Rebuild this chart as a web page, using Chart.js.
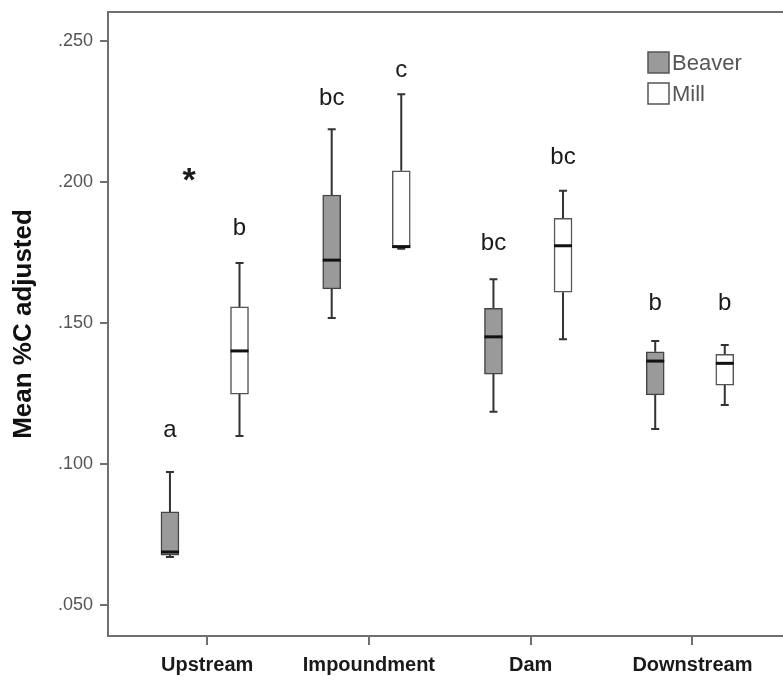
<!DOCTYPE html>
<html>
<head>
<meta charset="utf-8">
<script src="https://cdn.jsdelivr.net/npm/chart.js@4.4.0/dist/chart.umd.min.js"></script>
<style>
  html, body { margin: 0; padding: 0; background: #fff; }
  #wrap { width: 783px; height: 685px; }
</style>
</head>
<body>
<div id="wrap"><canvas id="chart"></canvas></div>
<script>
// Datos (cajas: mínimo, Q1, mediana, Q3, máximo)
const sites = ['Upstream', 'Impoundment', 'Dam', 'Downstream'];
const seriesNames = ['Beaver', 'Mill'];

const beaverMin = [0.0670, 0.1518, 0.1185, 0.1124];
const beaverQ1  = [0.0677, 0.1621, 0.1319, 0.1245];
const beaverMed = [0.0688, 0.1723, 0.1451, 0.1365];
const beaverQ3  = [0.0830, 0.1954, 0.1552, 0.1398];
const beaverMax = [0.0972, 0.2187, 0.1655, 0.1436];

const millMin = [0.1099, 0.1763, 0.1442, 0.1209];
const millQ1  = [0.1248, 0.1766, 0.1609, 0.1280];
const millMed = [0.1401, 0.1771, 0.1774, 0.1357];
const millQ3  = [0.1557, 0.2040, 0.1871, 0.1389];
const millMax = [0.1713, 0.2311, 0.1969, 0.1422];

// letras de significancia y su altura (en unidades del eje Y)
const beaverLetters = ['a', 'bc', 'bc', 'b'];
const beaverLetterY = [0.1121, 0.2298, 0.1784, 0.1571];
const millLetters = ['b', 'c', 'bc', 'b'];
const millLetterY = [0.1837, 0.2397, 0.2089, 0.1571];

const starSite = 0;
const starY = 0.2025;

const yTicks = [0.05, 0.10, 0.15, 0.20, 0.25];

const AXIS_COLOR = '#707070';
const FONT = "'Liberation Sans', Arial, sans-serif";

function serie(nombre, offset, q1, q3, extra, fill, border) {
    return Object.assign({
        label: nombre,
        data: sites.map((s, i) => ({ x: i + offset, y: [q1[i], q3[i]] })),
        backgroundColor: fill,
        borderColor: border,
        borderWidth: 1.5,
        borderSkipped: false,
        barThickness: 18,
        grouped: false
    }, extra);
}

const datasets = [
    serie(seriesNames[0], -0.23, beaverQ1, beaverQ3,
        { mins: beaverMin, maxs: beaverMax, meds: beaverMed, letters: beaverLetters, letterY: beaverLetterY },
        '#9a9a9a', '#444'),
    serie(seriesNames[1], 0.20, millQ1, millQ3,
        { mins: millMin, maxs: millMax, meds: millMed, letters: millLetters, letterY: millLetterY },
        '#ffffff', '#555')
];

const boxPlugin = {
    id: 'boxDecor',
    beforeDatasetsDraw(chart) {
        const { ctx, scales: { y } } = chart;
        ctx.save();
        ctx.strokeStyle = '#333';
        ctx.lineWidth = 2;
        chart.data.datasets.forEach((ds, di) => {
            chart.getDatasetMeta(di).data.forEach((bar, i) => {
                const x = bar.x;
                const segs = [[ds.mins[i], ds.data[i].y[0]], [ds.data[i].y[1], ds.maxs[i]]];
                ctx.beginPath();
                segs.forEach(([a, b]) => {
                    ctx.moveTo(x, y.getPixelForValue(a));
                    ctx.lineTo(x, y.getPixelForValue(b));
                });
                [ds.mins[i], ds.maxs[i]].forEach(v => {
                    const py = y.getPixelForValue(v);
                    ctx.moveTo(x - 4, py);
                    ctx.lineTo(x + 4, py);
                });
                ctx.stroke();
            });
        });
        ctx.restore();
    },
    afterDatasetsDraw(chart) {
        const { ctx, chartArea, scales: { x, y } } = chart;
        ctx.save();
        // medianas
        ctx.strokeStyle = '#111';
        ctx.lineWidth = 3;
        chart.data.datasets.forEach((ds, di) => {
            chart.getDatasetMeta(di).data.forEach((bar, i) => {
                const py = y.getPixelForValue(ds.meds[i]);
                ctx.beginPath();
                ctx.moveTo(bar.x - bar.width / 2, py);
                ctx.lineTo(bar.x + bar.width / 2, py);
                ctx.stroke();
            });
        });
        // letras
        ctx.fillStyle = '#1a1a1a';
        ctx.font = `24px ${FONT}`;
        ctx.textAlign = 'center';
        ctx.textBaseline = 'middle';
        chart.data.datasets.forEach((ds, di) => {
            chart.getDatasetMeta(di).data.forEach((bar, i) => {
                ctx.fillText(ds.letters[i], bar.x, y.getPixelForValue(ds.letterY[i]));
            });
        });
        // asterisco
        ctx.font = `bold 34px ${FONT}`;
        ctx.fillText('*', x.getPixelForValue(starSite) - 18, y.getPixelForValue(starY) + 7);

        // borde superior del marco
        ctx.strokeStyle = AXIS_COLOR;
        ctx.lineWidth = 2;
        ctx.beginPath();
        ctx.moveTo(chartArea.left, chartArea.top);
        ctx.lineTo(chartArea.right, chartArea.top);
        ctx.stroke();

        // leyenda
        const lx = chartArea.right - 135, ly = chartArea.top + 40;
        ctx.font = `22px ${FONT}`;
        ctx.textAlign = 'left';
        chart.data.datasets.forEach((ds, di) => {
            const top = ly + di * 31;
            ctx.fillStyle = ds.backgroundColor;
            ctx.fillRect(lx, top, 21, 21);
            ctx.strokeStyle = '#555';
            ctx.lineWidth = 1.5;
            ctx.strokeRect(lx, top, 21, 21);
            ctx.fillStyle = '#555';
            ctx.fillText(ds.label, lx + 24, top + 12);
        });
        ctx.restore();
    }
};

new Chart(document.getElementById('chart'), {
    type: 'bar',
    data: { datasets },
    plugins: [boxPlugin],
    options: {
        responsive: true,
        maintainAspectRatio: false,
        animation: false,
        layout: { padding: { top: 12, right: 0, left: 0, bottom: 0 } },
        plugins: { legend: { display: false }, tooltip: { enabled: false } },
        scales: {
            x: {
                type: 'linear',
                offset: false,
                min: -0.613,
                max: 3.56,
                afterBuildTicks: s => { s.ticks = sites.map((_, i) => ({ value: i })); },
                afterFit: s => { s.height = 49; s.paddingLeft = 0; s.paddingRight = 0; },
                ticks: {
                    callback: v => sites[v] ?? '',
                    color: '#1a1a1a',
                    font: { family: FONT, size: 20, weight: 'bold' },
                    padding: 8,
                    autoSkip: false,
                    maxRotation: 0
                },
                grid: { drawOnChartArea: false, color: AXIS_COLOR, lineWidth: 2, tickLength: 9, offset: false },
                border: { color: AXIS_COLOR, width: 2 }
            },
            y: {
                min: 0.039,
                max: 0.2603,
                afterBuildTicks: s => { s.ticks = yTicks.map(v => ({ value: v })); },
                afterFit: s => { s.width = 108; s.paddingTop = 0; s.paddingBottom = 0; },
                ticks: {
                    callback: v => v.toFixed(3).replace(/^0/, ''),
                    color: '#555',
                    font: { family: FONT, size: 18 },
                    padding: 7
                },
                grid: { drawOnChartArea: false, color: AXIS_COLOR, lineWidth: 2, tickLength: 8 },
                border: { color: AXIS_COLOR, width: 2 },
                title: {
                    display: true,
                    text: 'Mean %C adjusted',
                    color: '#111',
                    font: { family: FONT, size: 26, weight: 'bold' },
                    padding: { top: 8, bottom: 0 }
                }
            }
        }
    }
});
</script>
</body>
</html>
